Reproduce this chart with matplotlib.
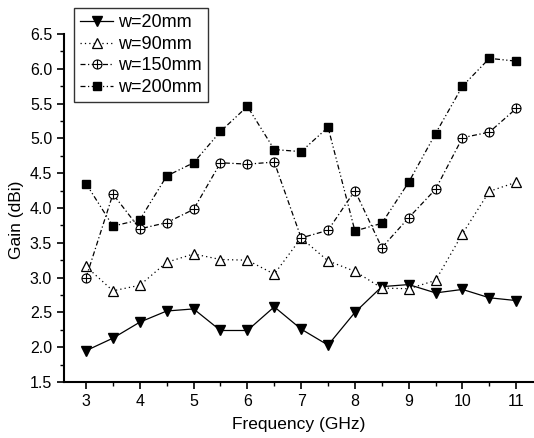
import matplotlib
matplotlib.use("Agg")
import matplotlib.pyplot as plt
from matplotlib.ticker import MultipleLocator
from matplotlib.path import Path

plt.rcParams['font.family'] = ['Liberation Sans', 'DejaVu Sans']

freq = [3, 3.5, 4, 4.5, 5, 5.5, 6, 6.5, 7, 7.5, 8, 8.5, 9, 9.5, 10, 10.5, 11]
w20 = [1.95, 2.13, 2.36, 2.52, 2.55, 2.24, 2.24, 2.58, 2.26, 2.03, 2.50, 2.87, 2.90, 2.78, 2.83, 2.71, 2.67]
w90 = [3.16, 2.81, 2.89, 3.22, 3.34, 3.26, 3.25, 3.05, 3.57, 3.24, 3.09, 2.85, 2.84, 2.96, 3.63, 4.24, 4.37]
w150 = [3.00, 4.20, 3.70, 3.79, 3.98, 4.65, 4.63, 4.66, 3.57, 3.68, 4.25, 3.43, 3.86, 4.27, 5.01, 5.09, 5.43]
w200 = [4.35, 3.74, 3.83, 4.46, 4.65, 5.10, 5.46, 4.84, 4.81, 5.16, 3.67, 3.78, 4.37, 5.07, 5.75, 6.15, 6.11]
labels = ['w=20mm', 'w=90mm', 'w=150mm', 'w=200mm']

# circle with cross marker
circ = Path.unit_circle()
hline = Path([(-1, 0), (1, 0)], [Path.MOVETO, Path.LINETO])
vline = Path([(0, -1), (0, 1)], [Path.MOVETO, Path.LINETO])
oplus = Path.make_compound_path(circ, hline, vline)

fig = plt.figure(figsize=(5.34, 4.38), dpi=100)
ax = fig.add_axes([64/534, 56/438, 1 - 64/534, (382-34)/438])

lw = 0.9
ax.plot(freq, w20, color='black', linestyle='-', linewidth=lw, marker='v', markersize=6.5,
        markerfacecolor='black', markeredgecolor='black', label=labels[0])
ax.plot(freq, w90, color='black', linestyle=(0, (1, 2.5)), linewidth=lw, marker='^', markersize=6.5,
        markerfacecolor='white', markeredgecolor='black', markeredgewidth=0.9, label=labels[1])
ax.plot(freq, w150, color='black', linestyle=(0, (4, 2, 1, 2)), linewidth=lw, marker=oplus, markersize=6.5,
        markerfacecolor='white', markeredgecolor='black', markeredgewidth=0.8, label=labels[2])
ax.plot(freq, w200, color='black', linestyle=(0, (4, 2, 1, 2, 1, 2)), linewidth=lw, marker='s', markersize=5.5,
        markerfacecolor='black', markeredgecolor='black', label=labels[3])

ax.set_xlim(2.59, 11.33)
ax.set_ylim(1.5, 6.5)
ax.xaxis.set_major_locator(MultipleLocator(1))
ax.xaxis.set_minor_locator(MultipleLocator(0.5))
ax.yaxis.set_minor_locator(MultipleLocator(0.25))
ax.set_yticks([1.5, 2.0, 2.5, 3.0, 3.5, 4.0, 4.5, 5.0, 5.5, 6.0, 6.5])
ax.set_yticklabels(['1.5', '2.0', '2.5', '3.0', '3.5', '4.0', '4.5', '5.0', '5.5', '6.0', '6.5'])
ax.tick_params(which='major', direction='out', length=5, width=1.2, labelsize=11.5)
ax.tick_params(which='minor', direction='out', length=3, width=1.0)
ax.spines['top'].set_visible(False)
ax.spines['right'].set_visible(False)
ax.spines['left'].set_linewidth(1.5)
ax.spines['bottom'].set_linewidth(1.5)

ax.set_xlabel('Frequency (GHz)', fontsize=12.5)
ax.set_ylabel('Gain (dBi)', fontsize=12.5)
ax.xaxis.set_label_coords(0.5, -(425 - 382) / 348, transform=ax.transAxes)
ax.yaxis.set_label_coords(-(64 - 17) / 470, (382 - 220) / 348, transform=ax.transAxes)
ax.xaxis.label.set_va('center')
ax.yaxis.label.set_va('center')

leg = ax.legend(loc='upper left', bbox_to_anchor=(74/534, 1 - 8/438), bbox_transform=fig.transFigure,
                borderaxespad=0, fontsize=13, frameon=True, fancybox=False, edgecolor='black',
                handlelength=1.8, borderpad=0.35, labelspacing=0.25, handletextpad=0.3)
leg.get_frame().set_linewidth(1.0)

fig.savefig('out.png', dpi=100)
